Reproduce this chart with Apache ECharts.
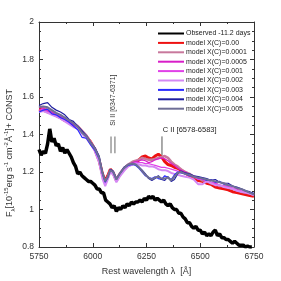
<!DOCTYPE html>
<html><head><meta charset="utf-8">
<script src="https://cdn.jsdelivr.net/npm/echarts@6/dist/echarts.min.js"></script>
<style>html,body{margin:0;padding:0;background:#fff}#c{width:281px;height:281px}</style>
</head><body><div id="c"></div>
<script>
// ---- data ----
const seriesNames = ['Observed -11.2 days','model X(C)=0.00','model X(C)=0.0001','model X(C)=0.0005','model X(C)=0.001','model X(C)=0.002','model X(C)=0.003','model X(C)=0.004','model X(C)=0.005'];

const obsWave = [5750,5760,5770,5780,5790,5800,5810,5820,5830,5840,5850,5860,5870,5880,5890,5900,5910,5920,5930,5940,5950,5960,5970,5980,5990,6000,6010,6020,6030,6040,6050,6060,6070,6080,6090,6100,6110,6120,6130,6140,6150,6160,6170,6180,6190,6200,6210,6220,6230,6240,6250,6260,6270,6280,6290,6300,6310,6320,6330,6340,6350,6360,6370,6380,6390,6400,6410,6420,6430,6440,6450,6460,6470,6480,6490,6500,6510,6520,6530,6540,6550,6560,6570,6580,6590,6600,6610,6620,6630,6640,6650,6660,6670,6680,6690,6700,6710,6720,6730,6740];
const obsFlux = [1.32,1.29,1.31,1.30,1.35,1.43,1.36,1.38,1.34,1.35,1.31,1.33,1.30,1.32,1.30,1.28,1.25,1.23,1.19,1.20,1.18,1.17,1.16,1.15,1.15,1.14,1.13,1.11,1.11,1.09,1.09,1.05,1.04,1.03,1.01,1.02,0.99,1.01,1.00,1.02,1.01,1.03,1.02,1.04,1.03,1.04,1.04,1.05,1.04,1.06,1.05,1.07,1.06,1.07,1.05,1.06,1.05,1.04,1.05,1.03,1.02,1.03,1.01,1.00,1.00,0.98,0.98,0.96,0.95,0.93,0.93,0.91,0.90,0.91,0.89,0.89,0.87,0.88,0.86,0.87,0.86,0.88,0.89,0.86,0.87,0.85,0.85,0.84,0.84,0.83,0.82,0.83,0.82,0.81,0.81,0.81,0.80,0.805,0.80,0.80];

const modelWave = [5750,5770,5790,5810,5830,5850,5870,5890,5910,5930,5950,5970,5990,6010,6030,6045,6058,6070,6082,6095,6110,6125,6145,6165,6185,6200,6215,6230,6245,6260,6275,6290,6305,6320,6335,6350,6365,6380,6395,6410,6430,6450,6470,6490,6510,6530,6550,6570,6590,6610,6630,6650,6670,6690,6710,6730,6750];
const model000 = [1.535,1.53,1.52,1.515,1.50,1.49,1.475,1.47,1.455,1.44,1.415,1.39,1.36,1.32,1.26,1.19,1.15,1.18,1.215,1.195,1.155,1.185,1.215,1.235,1.245,1.25,1.265,1.28,1.285,1.275,1.27,1.285,1.295,1.28,1.255,1.24,1.235,1.225,1.22,1.21,1.195,1.18,1.17,1.155,1.15,1.14,1.135,1.12,1.115,1.11,1.105,1.095,1.09,1.085,1.08,1.075,1.07];
const model0001 = [1.55,1.545,1.53,1.52,1.505,1.50,1.485,1.47,1.46,1.445,1.42,1.395,1.36,1.325,1.265,1.185,1.145,1.175,1.21,1.20,1.16,1.19,1.22,1.24,1.255,1.26,1.265,1.275,1.27,1.265,1.265,1.27,1.275,1.28,1.285,1.275,1.255,1.24,1.23,1.215,1.20,1.19,1.175,1.17,1.155,1.155,1.14,1.14,1.125,1.125,1.12,1.11,1.11,1.095,1.09,1.085,1.08];
const model0005 = [1.545,1.54,1.525,1.52,1.50,1.495,1.48,1.465,1.455,1.44,1.415,1.39,1.355,1.32,1.26,1.18,1.14,1.17,1.21,1.195,1.155,1.185,1.215,1.235,1.25,1.255,1.26,1.265,1.26,1.25,1.255,1.265,1.27,1.275,1.27,1.26,1.245,1.235,1.22,1.21,1.20,1.185,1.18,1.165,1.16,1.15,1.145,1.135,1.13,1.12,1.12,1.11,1.105,1.095,1.09,1.085,1.075];
const model001 = [1.53,1.535,1.52,1.51,1.50,1.49,1.475,1.46,1.445,1.435,1.41,1.385,1.355,1.315,1.255,1.175,1.135,1.165,1.205,1.19,1.15,1.18,1.21,1.235,1.245,1.25,1.25,1.25,1.245,1.245,1.24,1.235,1.23,1.225,1.225,1.22,1.215,1.21,1.205,1.20,1.19,1.18,1.175,1.16,1.16,1.15,1.145,1.14,1.13,1.125,1.12,1.115,1.105,1.10,1.095,1.085,1.08];
const model002 = [1.52,1.525,1.515,1.505,1.495,1.485,1.47,1.455,1.44,1.43,1.405,1.38,1.35,1.31,1.25,1.165,1.125,1.16,1.20,1.185,1.145,1.175,1.205,1.23,1.24,1.245,1.24,1.235,1.235,1.23,1.23,1.225,1.215,1.21,1.21,1.205,1.195,1.19,1.185,1.18,1.175,1.17,1.16,1.135,1.135,1.15,1.14,1.13,1.13,1.12,1.115,1.11,1.10,1.095,1.09,1.085,1.075];
const model003 = [1.52,1.53,1.535,1.51,1.505,1.49,1.48,1.465,1.445,1.425,1.385,1.38,1.345,1.315,1.27,1.19,1.145,1.175,1.21,1.20,1.16,1.19,1.22,1.235,1.24,1.235,1.22,1.20,1.18,1.17,1.165,1.175,1.165,1.16,1.18,1.17,1.16,1.185,1.20,1.195,1.19,1.18,1.175,1.17,1.165,1.155,1.16,1.145,1.15,1.135,1.13,1.125,1.115,1.11,1.10,1.09,1.085];
const model004 = [1.555,1.565,1.57,1.545,1.53,1.52,1.505,1.48,1.47,1.445,1.42,1.395,1.36,1.33,1.285,1.20,1.15,1.17,1.215,1.205,1.165,1.19,1.225,1.24,1.245,1.24,1.225,1.21,1.19,1.165,1.155,1.165,1.18,1.16,1.155,1.175,1.15,1.16,1.19,1.205,1.195,1.19,1.18,1.175,1.17,1.165,1.155,1.16,1.145,1.14,1.14,1.125,1.12,1.11,1.10,1.095,1.085];
const model005 = [1.545,1.55,1.545,1.53,1.515,1.505,1.49,1.475,1.46,1.44,1.41,1.39,1.355,1.325,1.275,1.195,1.15,1.175,1.21,1.20,1.16,1.19,1.22,1.24,1.245,1.24,1.225,1.205,1.185,1.17,1.16,1.17,1.175,1.165,1.165,1.17,1.155,1.175,1.195,1.20,1.19,1.185,1.175,1.17,1.165,1.16,1.155,1.15,1.145,1.14,1.13,1.125,1.115,1.11,1.10,1.09,1.08];

const siWave = [6085, 6103];
const siRange = [1.30, 1.39];
const ciWave = [6322];
const ciRange = [1.29, 1.39];
const siText = 'Si II [6347-6371]';
const ciText = 'C II [6578-6583]';
const siTextPos = [6096, 1.583];
const ciTextPos = [6326, 1.424];

// ---- chart ----
const pair = (xs, ys) => xs.map((x, i) => [x, ys[i]]);
const modelArrays = [model000, model0001, model0005, model001, model002, model003, model004, model005];
const styles = [
  {c:'#000000', w:3.5},
  {c:'#ee1111', w:3},
  {c:'#c8789c', w:2.5},
  {c:'#d81ec8', w:1.2},
  {c:'#e040e8', w:1.2},
  {c:'#d488f4', w:2},
  {c:'#2a2aff', w:1.2},
  {c:'#1e1ea0', w:1.2},
  {c:'#6e6e96', w:2}
];

const series = [];
series.push({name: seriesNames[0], type:'line', data: pair(obsWave, obsFlux), symbol:'none', lineStyle:{color:styles[0].c, width:styles[0].w}, itemStyle:{color:styles[0].c}, z:2, animation:false});
modelArrays.forEach((arr, i) => {
  const s = styles[i+1];
  series.push({name: seriesNames[i+1], type:'line', data: pair(modelWave, arr), symbol:'none', lineStyle:{color:s.c, width:s.w}, itemStyle:{color:s.c}, z:3, animation:false});
});
siWave.forEach(w => {
  series.push({type:'line', data:[[w, siRange[0]],[w, siRange[1]]], symbol:'none', lineStyle:{color:'#9a9a9a', width:1.5}, silent:true, animation:false});
});
ciWave.forEach(w => {
  series.push({type:'line', data:[[w, ciRange[0]],[w, ciRange[1]]], symbol:'none', lineStyle:{color:'#555', width:1}, silent:true, animation:false});
});

const ff = 'Liberation Sans, Arial, sans-serif';
const axisCommon = {
  axisLine:{show:true, onZero:false, lineStyle:{color:'#333', width:1}},
  axisTick:{show:true, inside:true, length:4, lineStyle:{color:'#333'}},
  splitLine:{show:false}, minorSplitLine:{show:false}
};
const numFmt = v => String(Math.round(v * 100) / 100);

const chart = echarts.init(document.getElementById('c'), null, {renderer:'canvas'});
chart.setOption({
  animation:false,
  backgroundColor:'#fff',
  grid:{left:39, right:27, top:22, bottom:32, containLabel:false},
  legend:{
    data: seriesNames, orient:'vertical', left:157, top:30, padding:0,
    itemWidth:26, itemHeight:8, itemGap:2.4,
    itemStyle:{opacity:0, borderWidth:0},
    textStyle:{fontSize:7, color:'#222', fontFamily:ff, padding:[0,0,0,-3]},
    selectedMode:false
  },
  xAxis:[
    Object.assign({type:'value', min:5750, max:6750, interval:250, position:'bottom',
      axisLabel:{fontSize:8.5, color:'#333', margin:5, fontFamily:ff, formatter:numFmt},
      name:'Rest wavelength λ  [Å]', nameLocation:'middle', nameGap:20,
      nameTextStyle:{fontSize:9, color:'#333', fontFamily:ff},
      minorTick:{show:true, splitNumber:2, length:2, lineStyle:{color:'#333'}}}, axisCommon),
    Object.assign({type:'value', min:5750, max:6750, interval:250, position:'top', axisLabel:{show:false},
      minorTick:{show:true, splitNumber:2, length:2, lineStyle:{color:'#333'}}}, axisCommon)
  ],
  yAxis:[
    Object.assign({type:'value', min:0.8, max:2, interval:0.2, position:'left',
      axisLabel:{fontSize:8.5, color:'#333', margin:5, fontFamily:ff, formatter:numFmt},
      minorTick:{show:true, splitNumber:4, length:2, lineStyle:{color:'#333'}}}, axisCommon),
    Object.assign({type:'value', min:0.8, max:2, interval:0.2, position:'right', axisLabel:{show:false},
      minorTick:{show:true, splitNumber:4, length:2, lineStyle:{color:'#333'}}}, axisCommon)
  ],
  series: series
});

const siPx = chart.convertToPixel({xAxisIndex:0, yAxisIndex:0}, siTextPos);
const ciPx = chart.convertToPixel({xAxisIndex:0, yAxisIndex:0}, ciTextPos);
chart.setOption({
  graphic:[
    {type:'text', x: siPx[0], y: siPx[1], rotation: Math.PI/2, silent:true,
      style:{text: siText, fontSize:7, fill:'#333', fontFamily:ff, align:'center', verticalAlign:'middle'}},
    {type:'text', x: ciPx[0], y: ciPx[1], silent:true,
      style:{text: ciText, fontSize:7.5, fill:'#222', fontFamily:ff, align:'left', verticalAlign:'middle'}},
    {type:'text', x: 10, y: 153, rotation: Math.PI/2, silent:true,
      style:{
        text:'{n|F}{sub|λ}{n|[10}{sup|-15}{n|erg s}{sup|-1}{n| cm}{sup|-2}{n|Å}{sup|-1}{n|]+ CONST}',
        align:'center', verticalAlign:'middle', fontFamily:ff,
        rich:{
          n:{fontSize:9, fill:'#333', lineHeight:13, fontFamily:ff},
          sub:{fontSize:6, fill:'#333', lineHeight:13, verticalAlign:'bottom', fontFamily:ff},
          sup:{fontSize:6, fill:'#333', lineHeight:13, verticalAlign:'top', fontFamily:ff}
        }
      }}
  ]
});
</script>
</body></html>
